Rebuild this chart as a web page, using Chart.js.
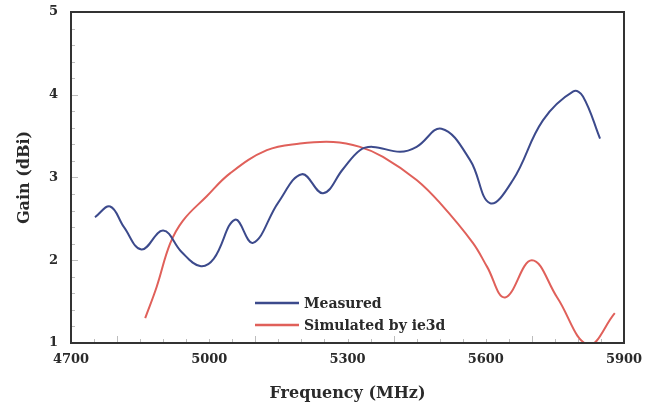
<!DOCTYPE html>
<html>
<head>
<meta charset="utf-8">
<script src="https://cdn.jsdelivr.net/npm/chart.js@4"></script>
<style>
  html, body { margin: 0; padding: 0; background: #fff; }
  #wrap { width: 649px; height: 416px; }
</style>
</head>
<body>
<div id="wrap"><canvas id="graph" width="649" height="416"></canvas></div>
<script>
// frequency (MHz) / gain (dBi) pairs
const measuredFreq = [4752, 4785, 4815, 4853, 4900, 4940, 4980, 5010, 5056, 5095, 5150, 5201, 5247, 5290, 5327, 5355, 5414, 5450, 5504, 5566, 5609, 5659, 5724, 5790, 5811, 5848];
const measuredGain = [2.52, 2.65, 2.40, 2.13, 2.36, 2.10, 1.93, 2.02, 2.49, 2.21, 2.70, 3.04, 2.81, 3.10, 3.33, 3.37, 3.31, 3.37, 3.59, 3.21, 2.69, 2.97, 3.69, 4.04, 3.98, 3.47];

const simFreq = [4861, 4886, 4915, 4943, 4994, 5045, 5125, 5197, 5269, 5327, 5377, 5450, 5501, 5572, 5603, 5642, 5700, 5755, 5822, 5880];
const simGain = [1.30, 1.68, 2.20, 2.48, 2.77, 3.05, 3.33, 3.41, 3.43, 3.37, 3.25, 2.97, 2.69, 2.21, 1.92, 1.55, 2.00, 1.55, 0.98, 1.36];

const xTicks = [4700, 5000, 5300, 5600, 5900];
const yTicks = [1, 2, 3, 4, 5];

const seriesNames = ["Measured", "Simulated by ie3d"];
const seriesColors = ["#3c4a8c", "#e0605a"];

const FONT = "'DejaVu Serif', 'Liberation Serif', serif";

function toPoints(xs, ys) {
  return xs.map((x, i) => ({ x: x, y: ys[i] }));
}

// box around the plot, small inward ticks, legend inside the plot
const framePlugin = {
  id: "frame",
  afterDatasetsDraw(chart) {
    const { ctx, chartArea: a, scales } = chart;
    ctx.save();

    ctx.strokeStyle = "#bdbdbd";
    ctx.lineWidth = 1;
    for (let v = 1; v <= 5.001; v += 0.2) {
      const y = Math.round(scales.y.getPixelForValue(v)) + 0.5;
      const len = Math.abs(v - Math.round(v)) < 0.01 ? 7 : 4;
      ctx.beginPath();
      ctx.moveTo(a.left, y);
      ctx.lineTo(a.left + len, y);
      ctx.stroke();
    }
    for (let f = 4700; f <= 5900; f += 50) {
      const x = Math.round(scales.x.getPixelForValue(f)) + 0.5;
      const len = f % 300 === 0 ? 7 : 4;
      ctx.beginPath();
      ctx.moveTo(x, a.bottom);
      ctx.lineTo(x, a.bottom - len);
      ctx.stroke();
    }

    ctx.strokeStyle = "#333";
    ctx.lineWidth = 2;
    ctx.strokeRect(a.left, a.top, a.right - a.left, a.bottom - a.top);

    // legend
    ctx.font = "bold 14px " + FONT;
    ctx.textBaseline = "middle";
    ctx.textAlign = "left";
    const lx = 255, ly = [303, 325];
    chart.data.datasets.forEach((ds, i) => {
      ctx.strokeStyle = ds.borderColor;
      ctx.lineWidth = 2.5;
      ctx.beginPath();
      ctx.moveTo(lx, ly[i]);
      ctx.lineTo(lx + 44, ly[i]);
      ctx.stroke();
      ctx.fillStyle = "#2a2a2a";
      ctx.fillText(ds.label, lx + 49, ly[i] + 1);
    });
    ctx.restore();
  }
};

const ctx = document.getElementById("graph").getContext("2d");

new Chart(ctx, {
  type: "line",
  data: {
    datasets: [
      {
        label: seriesNames[0],
        data: toPoints(measuredFreq, measuredGain),
        borderColor: seriesColors[0],
        borderWidth: 2,
        pointRadius: 0,
        tension: 0.4,
        fill: false
      },
      {
        label: seriesNames[1],
        data: toPoints(simFreq, simGain),
        borderColor: seriesColors[1],
        borderWidth: 2,
        pointRadius: 0,
        tension: 0.4,
        fill: false
      }
    ]
  },
  options: {
    responsive: false,
    animation: false,
    layout: { padding: { top: 12, right: 25, left: 0, bottom: 0 } },
    plugins: {
      legend: { display: false },
      tooltip: { enabled: false }
    },
    scales: {
      x: {
        type: "linear",
        min: 4700,
        max: 5900,
        afterFit(scale) {
          scale.height = 73;
          scale.paddingLeft = 0;
          scale.paddingRight = 0;
        },
        afterBuildTicks(scale) { scale.ticks = xTicks.map(v => ({ value: v })); },
        grid: { display: false, drawTicks: false },
        border: { display: false },
        ticks: {
          padding: 9,
          color: "#2a2a2a",
          font: { family: FONT, size: 13, weight: "bold" },
          maxRotation: 0,
          callback: v => String(v)
        },
        title: {
          display: true,
          text: "Frequency (MHz)",
          color: "#2a2a2a",
          font: { family: FONT, size: 16, weight: "bold" },
          padding: { top: 0, bottom: 13 }
        }
      },
      y: {
        min: 1,
        max: 5,
        afterFit(scale) {
          scale.width = 71;
          scale.paddingTop = 0;
          scale.paddingBottom = 0;
        },
        afterBuildTicks(scale) { scale.ticks = yTicks.map(v => ({ value: v })); },
        grid: { display: false, drawTicks: false },
        border: { display: false },
        ticks: {
          padding: 13,
          color: "#2a2a2a",
          font: { family: FONT, size: 13, weight: "bold" },
          callback: v => String(v)
        },
        title: {
          display: true,
          text: "Gain (dBi)",
          color: "#2a2a2a",
          font: { family: FONT, size: 16, weight: "bold" },
          padding: { top: 15, bottom: 0 }
        }
      }
    }
  },
  plugins: [framePlugin]
});
</script>
</body>
</html>
